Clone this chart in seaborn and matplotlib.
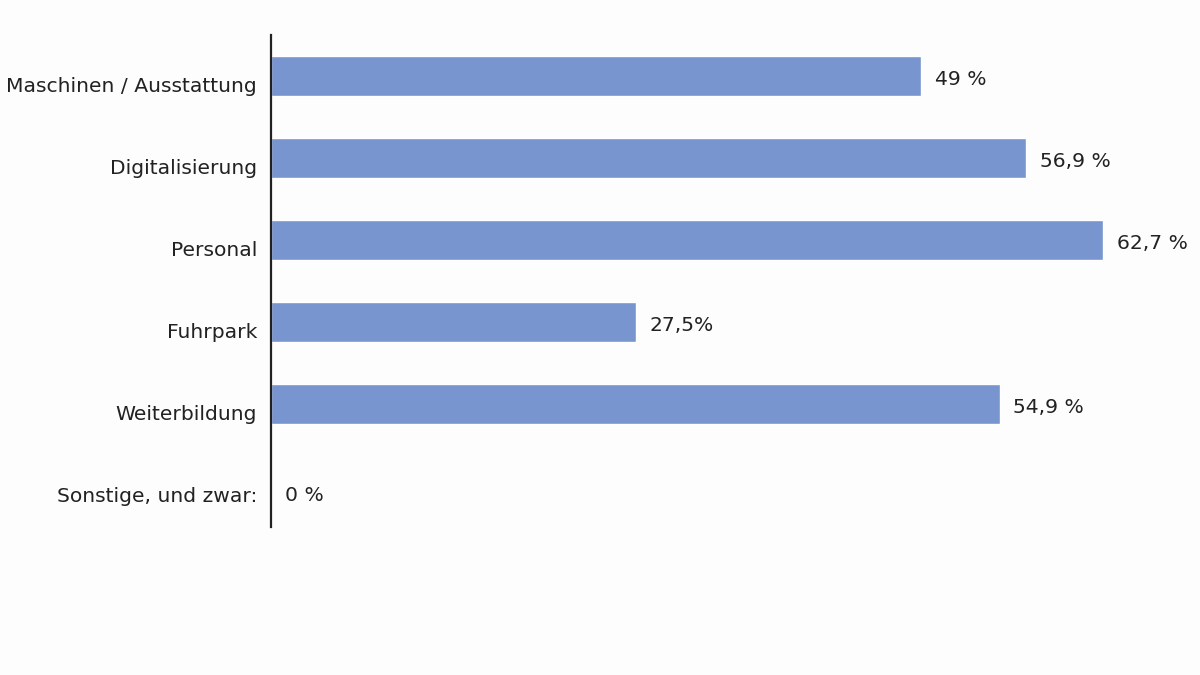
import matplotlib
matplotlib.use("Agg")
import matplotlib.pyplot as plt
from matplotlib.transforms import ScaledTranslation
import seaborn as sns
import pandas as pd

# DATA
categories = ["Maschinen / Ausstattung", "Digitalisierung", "Personal",
              "Fuhrpark", "Weiterbildung", "Sonstige, und zwar:"]
values = [49.0, 56.9, 62.7, 27.5, 54.9, 0.0]
value_labels = ["49 %", "56,9 %", "62,7 %", "27,5%", "54,9 %", "0 %"]

df = pd.DataFrame({"Kategorie": categories, "Anteil": values})

sns.set_style("white")
plt.rcParams["font.family"] = ["DejaVu Sans"]

fig = plt.figure(figsize=(12, 6.75), dpi=100, facecolor="#fdfdfd")
ax = fig.add_axes([0.2258, 0.2193, 0.7742, 0.7289])
ax.set_facecolor("#fdfdfd")

sns.barplot(data=df, x="Anteil", y="Kategorie", orient="h",
            color="#7895cf", saturation=1, width=0.49, ax=ax)

ax.set_xlim(0, 70)
ax.set_ylim(5.5, -0.5)
ax.set_xlabel("")
ax.set_ylabel("")
ax.set_xticks([])

for s in ["top", "right", "bottom"]:
    ax.spines[s].set_visible(False)
ax.spines["left"].set_color("#222222")
ax.spines["left"].set_linewidth(1.6)

ax.tick_params(axis="y", length=0, pad=10, labelsize=14.6, labelcolor="#222222")
# category labels sit slightly below the bar centres
shift = ScaledTranslation(0, -9 / 100, fig.dpi_scale_trans)
for lbl in ax.get_yticklabels():
    lbl.set_transform(lbl.get_transform() + shift)

for i, (v, t) in enumerate(zip(values, value_labels)):
    dy = -7 if v == 0 else -2.5
    ax.annotate(t, xy=(v, i), xytext=(10, dy), textcoords="offset points",
                va="center", ha="left", fontsize=14.6, color="#222222")

fig.savefig("out.png", dpi=100, facecolor=fig.get_facecolor())
